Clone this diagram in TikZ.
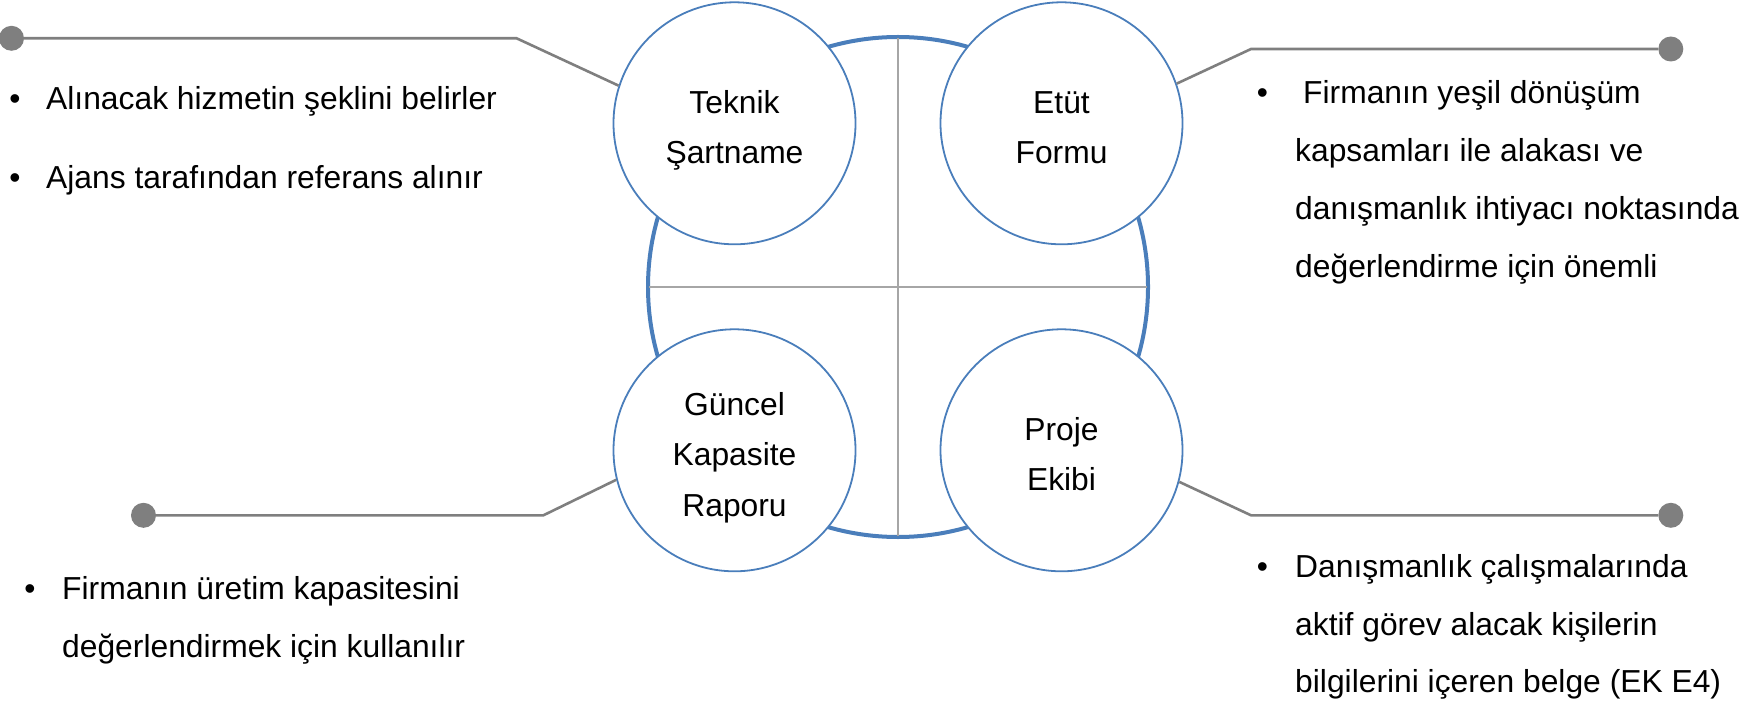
\documentclass[tikz,border=0pt]{standalone}
\usepackage{fontspec}
\setmainfont{Liberation Sans}
\definecolor{cblue}{HTML}{4A7EBB}
\definecolor{cgray}{HTML}{7F7F7F}
\definecolor{clight}{HTML}{A6A6A6}
\begin{document}
\begin{tikzpicture}[x=1pt,y=-1pt,
  bigring/.style={circle, draw=cblue, line width=4pt, minimum size=500pt, inner sep=0pt},
  smallc/.style={circle, draw=cblue, line width=1.8pt, fill=white, minimum size=242pt, inner sep=0pt},
  crossln/.style={draw=clight, line width=1.3pt, shorten >=3pt, shorten <=3pt},
  conn/.style={draw=cgray, line width=2.6pt},
  dotst/.style={circle, fill=cgray, minimum size=25pt, inner sep=0pt},
  txt/.style={font=\fontsize{31.8}{38}\selectfont, inner sep=0pt, anchor=base west},
  ctxt/.style={font=\fontsize{31.8}{38}\selectfont, inner sep=0pt, anchor=base},
  bul/.style={font=\fontsize{31.8}{38}\selectfont, inner sep=0pt, anchor=base}]
\useasboundingbox (0,0) rectangle (1763,703);

% central ring and cross
\node[bigring] (big) at (898,287) {};
\draw[crossln] (big.north) -- (big.south);
\draw[crossln] (big.west) -- (big.east);

% four circles
\node[smallc] (tek) at (734.5,123.3) {};
\node[smallc] (etu) at (1061.5,123.3) {};
\node[smallc] (gun) at (734.5,450.3) {};
\node[smallc] (pro) at (1061.5,450.3) {};

\node[ctxt] (tek1) at (734.5,114) {Teknik};
\node[ctxt] (tek2) at (734.5,163.5) {Şartname};
\node[ctxt] (etu1) at (1061.5,114) {Etüt};
\node[ctxt] (etu2) at (1061.5,163.5) {Formu};
\node[ctxt] (gun1) at (734.5,415) {Güncel};
\node[ctxt] (gun2) at (734.5,465.5) {Kapasite};
\node[ctxt] (gun3) at (734.5,516) {Raporu};
\node[ctxt] (pro1) at (1061.5,440) {Proje};
\node[ctxt] (pro2) at (1061.5,490) {Ekibi};

% connectors with end dots
\coordinate (b1) at (516.6,38.3);
\coordinate (b2) at (1251,49);
\coordinate (b3) at (543.4,515.3);
\coordinate (b4) at (1251,515.3);
\node[dotst] (d1) at (11.5,38.3) {};
\node[dotst] (d2) at (1670.8,49) {};
\node[dotst] (d3) at (143.5,515.3) {};
\node[dotst] (d4) at (1670.8,515.3) {};
\draw[conn] (d1) -- (b1) -- (tek.162);
\draw[conn] (d2) -- (b2) -- (etu.19);
\draw[conn] (d3) -- (b3) -- (gun.194);
\draw[conn] (d4) -- (b4) -- (pro.-15);

% top-left bullets
\node[bul] (u1) at (15,110) {•};
\node[txt] (l1) at (46,110) {Alınacak hizmetin şeklini belirler};
\node[bul] (u2) at (15,189) {•};
\node[txt] (l2) at (46,189) {Ajans tarafından referans alınır};

% top-right bullets
\node[bul] (u3) at (1262.5,104) {•};
\node[txt] (r1) at (1303,104) {Firmanın yeşil dönüşüm};
\node[txt] (r2) at (1295,161.7) {kapsamları ile alakası ve};
\node[txt] (r3) at (1295,219.4) {danışmanlık ihtiyacı noktasında};
\node[txt] (r4) at (1295,277.1) {değerlendirme için önemli};

% bottom-left bullets
\node[bul] (u4) at (30,599.5) {•};
\node[txt] (q1) at (62,599.5) {Firmanın üretim kapasitesini};
\node[txt] (q2) at (62,657.2) {değerlendirmek için kullanılır};

% bottom-right bullets
\node[bul] (u5) at (1262.5,577.5) {•};
\node[txt] (s1) at (1295,577.5) {Danışmanlık çalışmalarında};
\node[txt] (s2) at (1295,635.2) {aktif görev alacak kişilerin};
\node[txt] (s3) at (1295,692.9) {bilgilerini içeren belge (EK E4)};
\end{tikzpicture}
\end{document}
